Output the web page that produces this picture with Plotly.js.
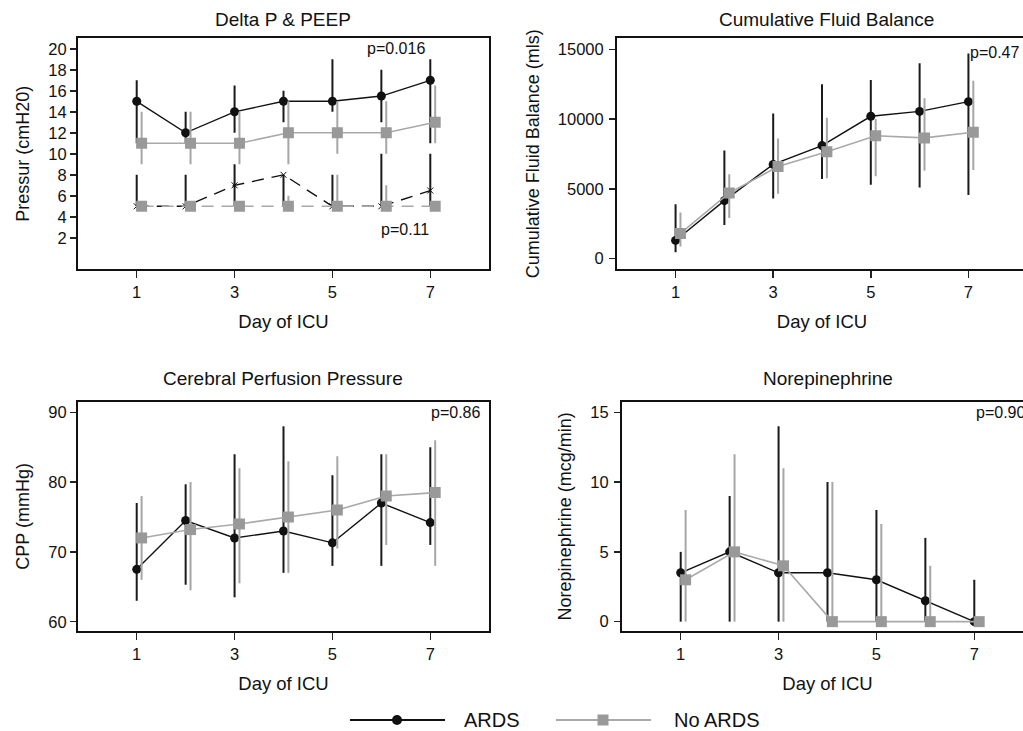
<!DOCTYPE html>
<html><head><meta charset="utf-8">
<script src="https://cdn.plot.ly/plotly-3.0.1.min.js"></script>
<style>html,body{margin:0;padding:0;overflow:hidden;background:#fff}#chart{width:1040px;height:731px}</style>
</head><body><div id="chart"></div>
<script>
// ---------------- data ----------------
const days = [1, 2, 3, 4, 5, 6, 7];
const xTicks = [1, 3, 5, 7];

// Delta P (cmH2O)
const ardsDP      = [15, 12, 14, 15, 15, 15.5, 17];
const ardsDPHi    = [17, 14, 16.5, 16, 19, 18, 19];
const ardsDPLo    = [11, 11, 12, 13, 14, 13, 11];
const noArdsDP    = [11, 11, 11, 12, 12, 12, 13];
const noArdsDPHi  = [14, 14, 14, 15, 15, 15, 16.5];
const noArdsDPLo  = [9, 9, 9, 9, 10, 10, 11];
// PEEP (cmH2O)
const ardsPEEP     = [5, 5, 7, 8, 5, 5, 6.5];
const ardsPEEPHi   = [8, 8, 9, 8, 8, 10, 10];
const ardsPEEPLo   = [5, 5, 5, 5, 5, 5, 5];
const noArdsPEEP   = [5, 5, 5, 5, 5, 5, 5];
const noArdsPEEPHi = [5, 5, 5, 6, 8, 7, 5];
const noArdsPEEPLo = [5, 5, 5, 5, 5, 5, 5];
const pressureTicks = [2, 4, 6, 8, 10, 12, 14, 16, 18, 20];

// Cumulative fluid balance (mls)
const ardsCFB     = [1300, 4150, 6750, 8100, 10200, 10550, 11250];
const ardsCFBHi   = [3900, 7750, 10400, 12500, 12800, 14000, 14700];
const ardsCFBLo   = [450, 2400, 4300, 5700, 5300, 5100, 4550];
const noArdsCFB   = [1800, 4700, 6600, 7650, 8800, 8650, 9050];
const noArdsCFBHi = [3300, 6050, 8600, 10100, 10000, 11500, 12750];
const noArdsCFBLo = [860, 2900, 4650, 5750, 5900, 6300, 6350];
const cfbTicks = [0, 5000, 10000, 15000];

// Cerebral perfusion pressure (mmHg)
const ardsCPP     = [67.5, 74.5, 72, 73, 71.3, 77, 74.2];
const ardsCPPHi   = [77, 79.7, 84, 88, 81, 84, 85];
const ardsCPPLo   = [63, 65.3, 63.5, 67, 68, 68, 71];
const noArdsCPP   = [72, 73.2, 74, 75, 76, 78, 78.5];
const noArdsCPPHi = [78, 80, 82, 83, 83.7, 84, 86];
const noArdsCPPLo = [66, 64.5, 65.5, 67, 70.5, 71, 68];
const cppTicks = [60, 70, 80, 90];

// Norepinephrine (mcg/min)
const ardsNE     = [3.5, 5, 3.5, 3.5, 3, 1.5, 0];
const ardsNEHi   = [5, 9, 14, 10, 8, 6, 3];
const ardsNELo   = [0, 0, 0, 0, 0, 0, 0];
const noArdsNE   = [3, 5, 4, 0, 0, 0, 0];
const noArdsNEHi = [8, 12, 11, 10, 7, 4, 0.3];
const noArdsNELo = [0, 0, 0, 0, 0, 0, 0];
const neTicks = [0, 5, 10, 15];

const seriesNames = ['ARDS', 'No ARDS'];
const panelTitles = ['Delta P & PEEP', 'Cumulative Fluid Balance', 'Cerebral Perfusion Pressure', 'Norepinephrine'];
const yTitles = ['Pressur (cmH20)', 'Cumulative Fluid Balance (mls)', 'CPP (mmHg)', 'Norepinephrine (mcg/min)'];
const xTitle = 'Day of ICU';
const pValues = ['p=0.016', 'p=0.11', 'p=0.47', 'p=0.86', 'p=0.90'];

// ---------------- styling ----------------
const W = 1040, H = 731;
const FONT = 'Liberation Sans, Arial, sans-serif';
const TXT = '#111111';
const BLACK = '#111111', GREY_LINE = '#a9a9a9', GREY_MARK = '#999999';
const OFFSET = 0.1; // No ARDS points drawn slightly to the right

function mk(x, y, hi, lo, ax, isArds, opts) {
  opts = opts || {};
  return {
    type: 'scatter', mode: 'lines+markers', showlegend: false,
    x: x, y: y, xaxis: 'x' + ax, yaxis: 'y' + ax,
    line: {color: isArds ? BLACK : GREY_LINE, width: isArds ? 1.4 : 1.6, dash: opts.dash || 'solid'},
    marker: opts.marker || (isArds ? {symbol: 'circle', size: 9, color: BLACK}
                                   : {symbol: 'square', size: 11, color: GREY_MARK}),
    error_y: {type: 'data', symmetric: false,
      array: hi.map((v, i) => v - y[i]), arrayminus: lo.map((v, i) => y[i] - v),
      color: isArds ? '#1a1a1a' : '#a6a6a6', thickness: 2, width: 0},
    hoverinfo: 'x+y'
  };
}
const xr = days;
const xg = days.map(d => d + OFFSET);

const traces = [
  mk(xr, ardsDP, ardsDPHi, ardsDPLo, '', true),
  mk(xg, noArdsDP, noArdsDPHi, noArdsDPLo, '', false),
  mk(xr, ardsPEEP, ardsPEEPHi, ardsPEEPLo, '', true, {dash: '12px,8px', marker: {symbol: 'x-thin', size: 6, color: BLACK, line: {width: 1, color: BLACK}}}),
  mk(xg, noArdsPEEP, noArdsPEEPHi, noArdsPEEPLo, '', false, {dash: '12px,8px'}),
  mk(xr, ardsCFB, ardsCFBHi, ardsCFBLo, '2', true),
  mk(xg, noArdsCFB, noArdsCFBHi, noArdsCFBLo, '2', false),
  mk(xr, ardsCPP, ardsCPPHi, ardsCPPLo, '3', true),
  mk(xg, noArdsCPP, noArdsCPPHi, noArdsCPPLo, '3', false),
  mk(xr, ardsNE, ardsNEHi, ardsNELo, '4', true),
  mk(xg, noArdsNE, noArdsNEHi, noArdsNELo, '4', false)
];

// panel boxes in pixels: [left, right, top, bottom]
const boxes = [[78, 489, 38.3, 269.3], [617, 1027, 38.3, 269.3], [78, 489, 401.7, 631], [622, 1033, 401.7, 631]];
const yRanges = [[-1, 21], [-770, 15790], [58.67, 91.52], [-0.67, 15.76]];
const yTickSets = [pressureTicks, cfbTicks, cppTicks, neTicks];
const yLabelGap = [0, 2, 0, 2];

function xAxis(b, anchor) {
  return {domain: [b[0] / W, b[1] / W], range: [-0.2, 8.2], anchor: anchor,
    tickvals: xTicks, ticks: 'outside', ticklen: 7, tickwidth: 1.5, tickcolor: '#222',
    ticklabelstandoff: 0,
    showline: true, mirror: true, linecolor: '#111', linewidth: 2,
    showgrid: false, zeroline: false, fixedrange: true,
    tickfont: {family: FONT, size: 16.5, color: TXT},
    title: {text: xTitle, standoff: 15, font: {family: FONT, size: 18.5, color: TXT}}};
}
function yAxis(b, anchor, rng, tv, title, gap) {
  return {domain: [1 - b[3] / H, 1 - b[2] / H], range: rng, anchor: anchor,
    tickvals: tv, tickformat: 'd', ticks: 'outside', ticklen: 6, tickwidth: 1.5, tickcolor: '#222',
    ticklabelstandoff: gap,
    showline: true, mirror: true, linecolor: '#111', linewidth: 2,
    showgrid: false, zeroline: false, fixedrange: true,
    tickfont: {family: FONT, size: 16.5, color: TXT},
    title: {text: title, standoff: 14, font: {family: FONT, size: 18, color: TXT}}};
}

const layout = {
  width: W, height: H, margin: {l: 0, r: 0, t: 0, b: 0},
  paper_bgcolor: '#fff', plot_bgcolor: '#fff', showlegend: false,
  font: {family: FONT, color: TXT},
  xaxis: xAxis(boxes[0], 'y'), yaxis: yAxis(boxes[0], 'x', yRanges[0], yTickSets[0], yTitles[0], yLabelGap[0]),
  xaxis2: xAxis(boxes[1], 'y2'), yaxis2: yAxis(boxes[1], 'x2', yRanges[1], yTickSets[1], yTitles[1], yLabelGap[1]),
  xaxis3: xAxis(boxes[2], 'y3'), yaxis3: yAxis(boxes[2], 'x3', yRanges[2], yTickSets[2], yTitles[2], yLabelGap[2]),
  xaxis4: xAxis(boxes[3], 'y4'), yaxis4: yAxis(boxes[3], 'x4', yRanges[3], yTickSets[3], yTitles[3], yLabelGap[3]),
  annotations: [], shapes: []
};

// subplot titles
const titlePos = [[283, 20], [826, 20], [283, 378], [828, 378]];
panelTitles.forEach((t, i) => layout.annotations.push({
  text: t, xref: 'paper', yref: 'paper', x: titlePos[i][0] / W, y: 1 - titlePos[i][1] / H,
  xanchor: 'center', yanchor: 'middle', showarrow: false, font: {family: FONT, size: 19, color: TXT}}));

// p-values (placed in data coordinates of each panel)
const pFont = {family: FONT, size: 16, color: TXT};
layout.annotations.push({text: pValues[0], xref: 'x', yref: 'y', x: 6.3, y: 20, xanchor: 'center', yanchor: 'middle', showarrow: false, font: pFont});
layout.annotations.push({text: pValues[1], xref: 'x', yref: 'y', x: 6.48, y: 2.8, xanchor: 'center', yanchor: 'middle', showarrow: false, font: pFont});
layout.annotations.push({text: pValues[2], xref: 'x2', yref: 'y2', x: 7.0, y: 14780, xanchor: 'left', yanchor: 'middle', showarrow: false, font: pFont});
layout.annotations.push({text: pValues[3], xref: 'x3', yref: 'y3', x: 6.98, y: 90, xanchor: 'left', yanchor: 'middle', showarrow: false, font: pFont});
layout.annotations.push({text: pValues[4], xref: 'x4', yref: 'y4', x: 6.99, y: 14.95, xanchor: 'left', yanchor: 'middle', showarrow: false, font: pFont});

// manual legend at the bottom
const ly = 1 - 720 / H;
const px = v => v / W, py = v => 1 - v / H;
layout.shapes.push({type: 'line', xref: 'paper', yref: 'paper', x0: px(350), x1: px(445), y0: ly, y1: ly, line: {color: BLACK, width: 2}});
layout.shapes.push({type: 'circle', xref: 'paper', yref: 'paper', x0: px(392), x1: px(402), y0: py(725), y1: py(715), fillcolor: BLACK, line: {color: BLACK, width: 0}});
layout.shapes.push({type: 'line', xref: 'paper', yref: 'paper', x0: px(556), x1: px(651), y0: ly, y1: ly, line: {color: GREY_LINE, width: 2}});
layout.shapes.push({type: 'rect', xref: 'paper', yref: 'paper', x0: px(597.5), x1: px(608.5), y0: py(725.5), y1: py(714.5), fillcolor: GREY_MARK, line: {color: GREY_MARK, width: 0}});
layout.annotations.push({text: seriesNames[0], xref: 'paper', yref: 'paper', x: px(462), y: ly, xanchor: 'left', yanchor: 'middle', showarrow: false, font: {family: FONT, size: 20, color: TXT}});
layout.annotations.push({text: seriesNames[1], xref: 'paper', yref: 'paper', x: px(672), y: ly, xanchor: 'left', yanchor: 'middle', showarrow: false, font: {family: FONT, size: 20, color: TXT}});

Plotly.newPlot('chart', traces, layout, {displayModeBar: false, staticPlot: true});
</script>
</body></html>
